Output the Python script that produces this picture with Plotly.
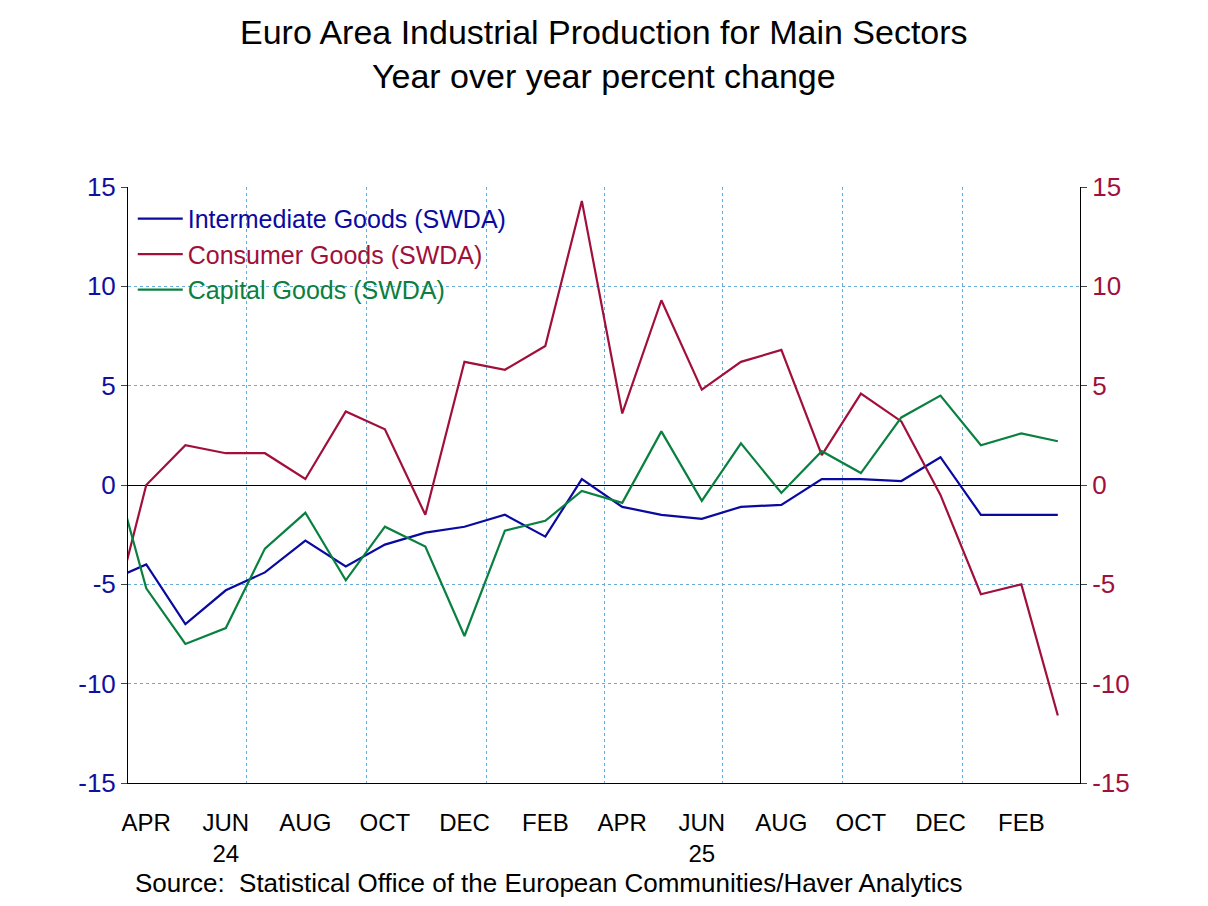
import plotly.graph_objects as go
import pandas as pd

months = pd.date_range("2024-03-01", periods=25, freq="MS") + pd.Timedelta(days=14)
intermediate = [-4.9, -4.0, -7.0, -5.3, -4.4, -2.8, -4.1, -3.0, -2.4, -2.1, -1.5, -2.6, 0.3,
                -1.1, -1.5, -1.7, -1.1, -1.0, 0.3, 0.3, 0.2, 1.4, -1.5, -1.5, -1.5]
consumer = [-8.0, 0.0, 2.0, 1.6, 1.6, 0.3, 3.7, 2.8, -1.5, 6.2, 5.8, 7.0, 14.3,
            3.6, 9.3, 4.8, 6.2, 6.8, 1.5, 4.6, 3.2, -0.5, -5.5, -5.0, -11.6]
capital = [2.2, -5.2, -8.0, -7.2, -3.2, -1.4, -4.8, -2.1, -3.1, -7.6, -2.3, -1.8, -0.3,
           -0.9, 2.7, -0.8, 2.1, -0.4, 1.7, 0.6, 3.4, 4.5, 2.0, 2.6, 2.2]
tick_dates = ["2024-04-15", "2024-06-15", "2024-08-15", "2024-10-15", "2024-12-15", "2025-02-15",
              "2025-04-15", "2025-06-15", "2025-08-15", "2025-10-15", "2025-12-15", "2026-02-15"]
tick_text = ["APR", "JUN<br>24", "AUG", "OCT", "DEC", "FEB", "APR", "JUN<br>25", "AUG", "OCT", "DEC", "FEB"]
y_ticks = [-15, -10, -5, 0, 5, 10, 15]
y_text = ["-15", "-10", "-5", "0", "5", "10", "15"]

colors = ["#0a0aa0", "#a0103a", "#0a8040"]
fig = go.Figure()
for name, vals, c in [("Intermediate Goods (SWDA)", intermediate, colors[0]),
                      ("Consumer Goods (SWDA)", consumer, colors[1]),
                      ("Capital Goods (SWDA)", capital, colors[2])]:
    fig.add_trace(go.Scatter(x=months, y=vals, name="<span style='color:%s'>%s</span>" % (c, name),
                             mode="lines", line=dict(color=c, width=2.2)))
fig.add_trace(go.Scatter(x=months, y=consumer, yaxis="y2", showlegend=False,
                         mode="lines", line=dict(width=0), hoverinfo="skip", opacity=0))

fig.update_layout(
    width=1192, height=890, plot_bgcolor="white", paper_bgcolor="white",
    font=dict(family="Liberation Sans, Arial", size=24, color="black"),
    margin=dict(l=120, r=120, t=179, b=115),
    showlegend=True,
    legend=dict(x=0.005, y=0.985, xanchor="left", yanchor="top", bgcolor="rgba(0,0,0,0)",
                font=dict(size=25), tracegroupgap=0, itemwidth=45),
    xaxis=dict(range=["2024-04-01", "2026-04-01"], tickvals=tick_dates, ticktext=tick_text,
               showgrid=False, ticks="", showline=True, linecolor="black",
               tickfont=dict(size=24), zeroline=False, ticklabelstandoff=18,
               minor=dict(tick0="2024-01-01", dtick="M3", showgrid=True, gridcolor="#6aaad8",
                          griddash="dot", gridwidth=1, ticks="")),
    yaxis=dict(range=[-15, 15], tickvals=y_ticks, ticktext=y_text, showgrid=True, gridcolor="#6aaad8",
               griddash="dot", zeroline=True, zerolinecolor="black", zerolinewidth=1, showline=True,
               linecolor="black", tickfont=dict(color="#1010a0", size=26), ticks="outside", ticklen=6),
    yaxis2=dict(range=[-15, 15], tickvals=y_ticks, ticktext=y_text, overlaying="y", side="right",
                showgrid=False, zeroline=False, showline=True, linecolor="black",
                tickfont=dict(color="#a0103a", size=26), ticks="outside", ticklen=6),
    annotations=[
        dict(text="Euro Area Industrial Production for Main Sectors<br>Year over year percent change",
             xref="paper", yref="paper", x=0.5, y=1.295, xanchor="center", yanchor="top",
             showarrow=False, font=dict(size=34)),
        dict(text="Source:  Statistical Office of the European Communities/Haver Analytics",
             xref="paper", yref="paper", x=0.005, y=-0.168, xanchor="left", yanchor="middle",
             showarrow=False, font=dict(size=26))],
)
fig.write_html("out.html")
